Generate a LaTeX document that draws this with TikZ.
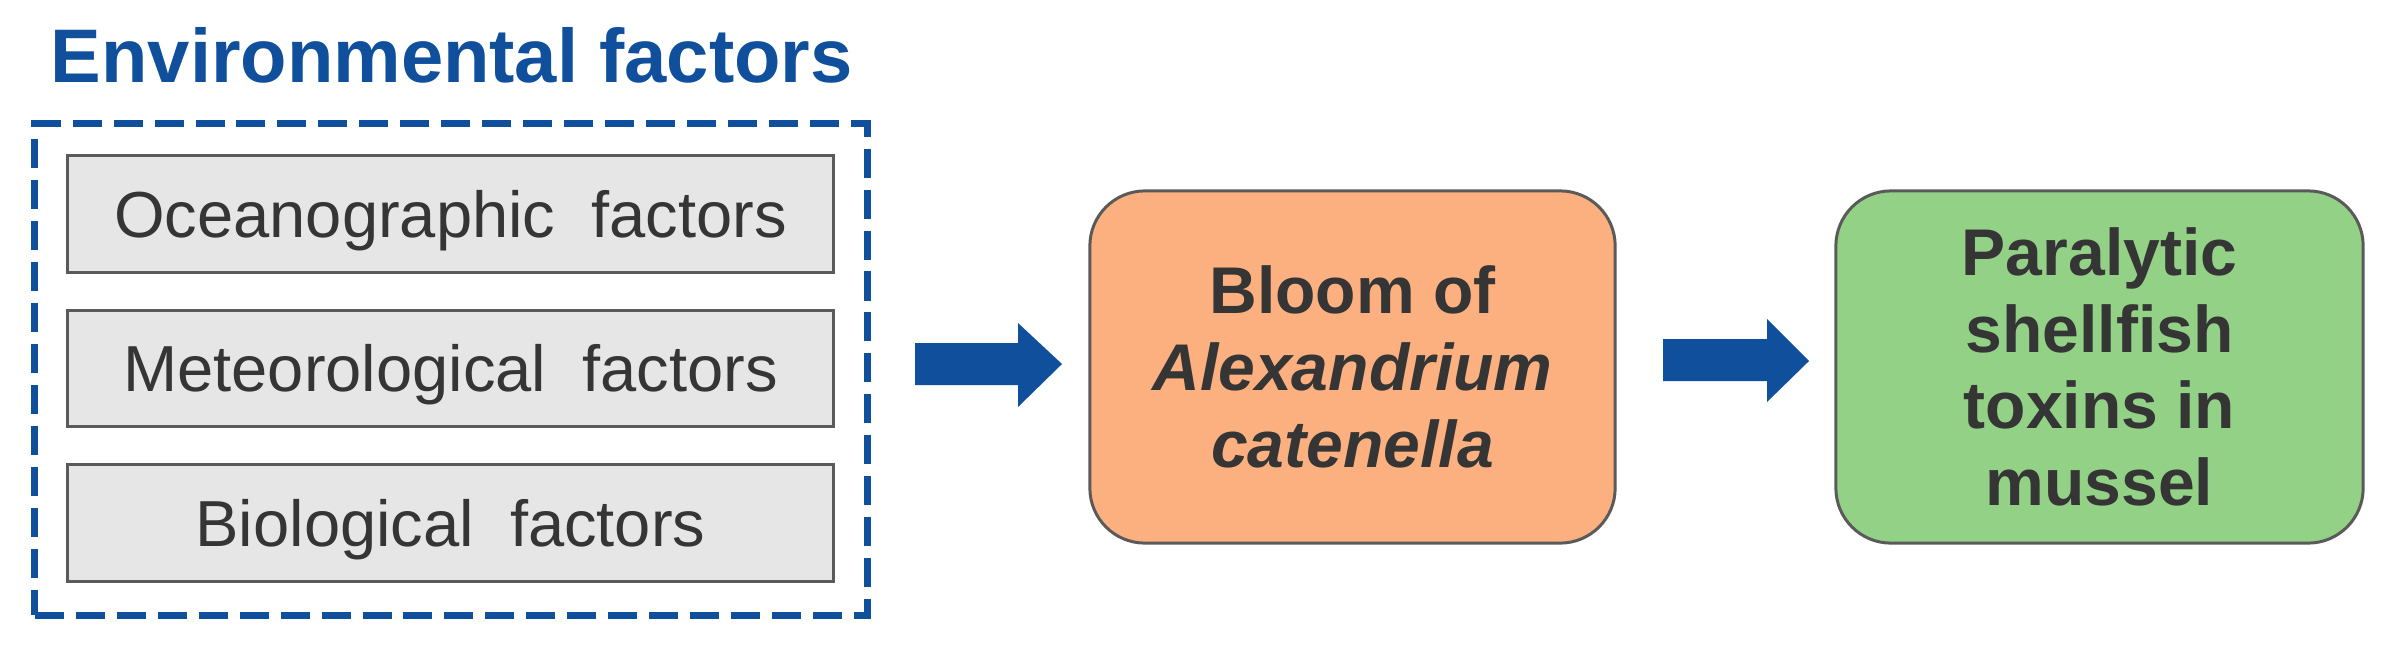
\documentclass[tikz,border=0pt]{standalone}
\usepackage{fontspec}
\setmainfont{Liberation Sans}
\definecolor{myblue}{HTML}{0F4F9C}
\definecolor{txtgray}{HTML}{353535}
\definecolor{boxgray}{HTML}{E6E6E6}
\definecolor{bordergray}{HTML}{5A5A5A}
\definecolor{orangefill}{HTML}{FCB07F}
\definecolor{greenfill}{HTML}{93D186}
\begin{document}
\begin{tikzpicture}[x=0.01cm,y=-0.01cm,
  factorbox/.style={draw=bordergray, fill=boxgray, line width=0.85pt, minimum width=7.65cm, minimum height=1.16cm, inner sep=0pt, text height=13.25pt, text depth=0pt, text=txtgray, font=\fontsize{18.5pt}{22pt}\selectfont},
  stagebox/.style={draw=bordergray, line width=0.85pt, rounded corners=0.55cm, minimum height=3.52cm, inner sep=0pt, text=txtgray, align=center, font=\fontsize{18.78pt}{21.8pt}\selectfont\bfseries},
  blockarrow/.style={fill=myblue, draw=none}]
\useasboundingbox (0,0) rectangle (2386,648);
\node[anchor=base west, inner sep=0pt, text=myblue, font=\fontsize{21.6pt}{26pt}\selectfont\bfseries] (title) at (50,82) {Environmental factors};
\node[draw=myblue, line width=2pt, dash pattern=on 8.25pt off 3.4pt, minimum width=8.32cm, minimum height=4.91cm, inner sep=0pt] (env) at (451,369.5) {};
\node[factorbox] (ocean) at (450.5,214) {Oceanographic \ factors};
\node[factorbox] (meteo) at (450.5,368.5) {Meteorological \ factors};
\node[factorbox] (bio) at (450.5,523) {Biological \ factors};
\node[stagebox, fill=orangefill, minimum width=5.25cm] (bloom) at (1352.5,367) {Bloom of\\\textit{Alexandrium}\\\textit{catenella}};
\node[stagebox, fill=greenfill, minimum width=5.27cm] (psp) at (2099.5,367) {Paralytic\\shellfish\\toxins in\\mussel};
\fill[blockarrow] (915,343) -- (1018,343) -- (1018,323) -- (1062,364) -- (1018,407) -- (1018,385) -- (915,385) -- cycle;
\fill[blockarrow] (1663,339) -- (1767,339) -- (1767,319) -- (1809,361) -- (1767,402) -- (1767,381) -- (1663,381) -- cycle;
\end{tikzpicture}
\end{document}
